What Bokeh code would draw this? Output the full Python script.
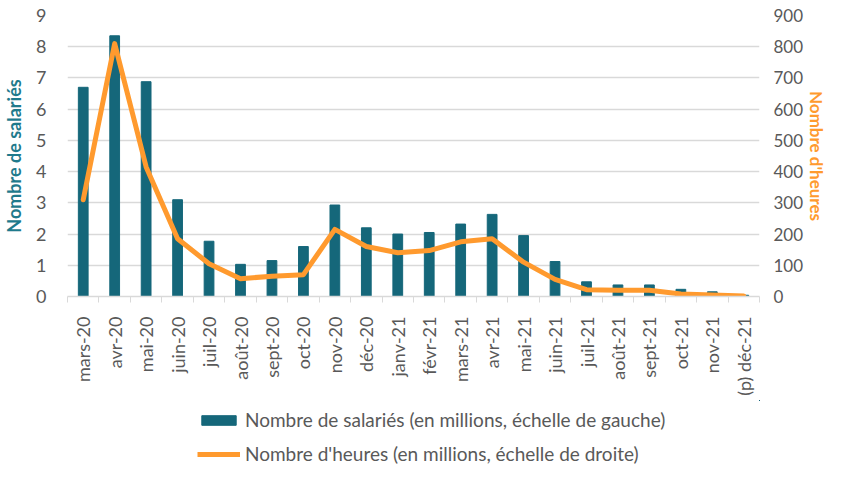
from bokeh.plotting import figure
from bokeh.models import (ColumnDataSource, LinearAxis, Range1d, FixedTicker,
                          Legend, LegendItem)
from bokeh.layouts import column
from bokeh.embed import file_html
from bokeh.resources import INLINE

months = ["mars-20", "avr-20", "mai-20", "juin-20", "juil-20", "août-20",
          "sept-20", "oct-20", "nov-20", "déc-20", "janv-21", "févr-21",
          "mars-21", "avr-21", "mai-21", "juin-21", "juil-21", "août-21",
          "sept-21", "oct-21", "nov-21", "(p) déc-21"]
salaries = [6.7, 8.35, 6.88, 3.1, 1.77, 1.03, 1.15, 1.6, 2.93, 2.2, 2.0, 2.05,
            2.32, 2.63, 1.95, 1.12, 0.47, 0.37, 0.37, 0.23, 0.15, 0.04]
heures = [310, 810, 415, 185, 105, 57, 65, 70, 215, 160, 140, 147,
          175, 185, 110, 55, 22, 20, 20, 8, 5, 2]
legend_labels = ["Nombre de salariés (en millions, échelle de gauche)",
                 "Nombre d'heures (en millions, échelle de droite)"]

TEAL = "#15677A"
ORANGE = "#FF9A2E"
GRAY = "#595959"
FONT = "Lato"

idx = list(range(len(months)))
src = ColumnDataSource(dict(x=idx, sal=salaries, h=heures))

p = figure(width=830, height=400, output_backend="svg", toolbar_location=None,
           x_range=Range1d(-0.5, len(months) - 0.5), y_range=Range1d(0, 9),
           min_border_top=15, min_border_left=59, min_border_right=69,
           min_border_bottom=104)
p.extra_y_ranges = {"h": Range1d(0, 900)}
p.outline_line_color = None
p.background_fill_color = "white"

bars = p.vbar(x="x", top="sal", width=0.31, source=src, color=TEAL)
line = p.line(x="x", y="h", source=src, y_range_name="h", color=ORANGE,
              line_width=5, line_join="round", line_cap="round")

# x axis
xa = p.xaxis[0]
xa.ticker = FixedTicker(ticks=idx, minor_ticks=[i - 0.5 for i in range(len(months) + 1)])
xa.major_label_overrides = {i: m for i, m in enumerate(months)}
xa.major_label_orientation = 1.5708
xa.major_tick_line_color = None
xa.major_tick_out = 0
xa.minor_tick_line_color = "#D9D9D9"
xa.minor_tick_in = 0
xa.minor_tick_out = 6
xa.axis_line_color = "#D9D9D9"
xa.axis_line_width = 1.5
xa.major_label_text_font = FONT
xa.major_label_text_font_size = "18px"
xa.major_label_text_color = GRAY
xa.major_label_standoff = 14

# left axis
ya = p.yaxis[0]
ya.ticker = FixedTicker(ticks=list(range(10)))
ya.axis_line_color = None
ya.major_tick_line_color = None
ya.minor_tick_line_color = None
ya.major_tick_out = 0
ya.minor_tick_out = 0
ya.major_label_text_font = FONT
ya.major_label_text_font_size = "18px"
ya.major_label_text_color = GRAY
ya.major_label_standoff = 21
ya.axis_label = "Nombre de salariés"
ya.axis_label_text_font = FONT
ya.axis_label_text_font_size = "18px"
ya.axis_label_text_font_style = "bold"
ya.axis_label_text_color = "#1F7A8C"
ya.axis_label_standoff = 8

# right axis
ra = LinearAxis(y_range_name="h", ticker=FixedTicker(ticks=list(range(0, 901, 100))))
ra.axis_line_color = None
ra.major_tick_line_color = None
ra.minor_tick_line_color = None
ra.major_tick_out = 0
ra.minor_tick_out = 0
ra.major_label_text_font = FONT
ra.major_label_text_font_size = "17px"
ra.major_label_text_color = GRAY
ra.major_label_standoff = 14
ra.axis_label = "Nombre d'heures"
ra.axis_label_text_font = FONT
ra.axis_label_text_font_size = "17px"
ra.axis_label_text_font_style = "bold"
ra.axis_label_text_color = ORANGE
ra.axis_label_standoff = 0
p.add_layout(ra, "right")

p.xgrid.grid_line_color = None
p.ygrid.grid_line_color = "#D9D9D9"
p.ygrid.grid_line_width = 1.5

# legend strip below the chart (its glyphs sit outside its view)
q = figure(width=830, height=65, output_backend="svg", toolbar_location=None,
           x_axis_location=None, y_axis_location=None, min_border=0,
           x_range=Range1d(-200, -100), y_range=Range1d(-200, -100))
q.grid.visible = False
q.outline_line_color = None
lb = q.vbar(x="x", top="sal", width=0.31, source=src, color=TEAL)
ll = q.line(x="x", y="h", source=src, color=ORANGE, line_width=5)

legend = Legend(items=[
    LegendItem(label=legend_labels[0], renderers=[lb]),
    LegendItem(label=legend_labels[1], renderers=[ll]),
], orientation="vertical", location=(130, 0))
legend.border_line_color = None
legend.background_fill_alpha = 0
legend.label_text_font = FONT
legend.label_text_font_size = "19px"
legend.label_text_color = GRAY
legend.glyph_width = 43
legend.glyph_height = 12
legend.spacing = 11
legend.label_standoff = 5
legend.margin = 0
legend.padding = 0
q.add_layout(legend)

layout = column(p, q, spacing=0)
open("out.html", "w").write(file_html(layout, INLINE))
